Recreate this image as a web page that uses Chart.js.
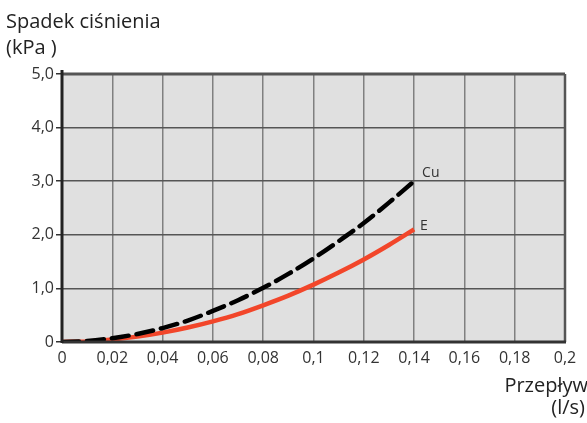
<!DOCTYPE html>
<html>
<head>
<meta charset="utf-8">
<script src="https://cdn.jsdelivr.net/npm/chart.js@4/dist/chart.umd.min.js"></script>
<style>
  html, body { margin: 0; padding: 0; background: #fff; }
  #wrap { position: relative; width: 587px; height: 423px; }
</style>
</head>
<body>
<div id="wrap"><canvas id="c" width="587" height="423"></canvas></div>
<script>
// Flow (l/s) and pressure drop (kPa)
const flow = [0, 0.01, 0.02, 0.03, 0.04, 0.05, 0.06, 0.07, 0.08, 0.09, 0.10, 0.11, 0.12, 0.13, 0.14];
const dropCu = [0, 0.02, 0.07, 0.15, 0.26, 0.40, 0.58, 0.78, 1.01, 1.27, 1.56, 1.88, 2.22, 2.60, 3.0];
const dropE  = [0, 0.01, 0.045, 0.10, 0.175, 0.27, 0.385, 0.52, 0.685, 0.865, 1.07, 1.295, 1.54, 1.81, 2.1];
const seriesNames = ['Cu', 'E'];
const xTickValues = [0, 0.02, 0.04, 0.06, 0.08, 0.1, 0.12, 0.14, 0.16, 0.18, 0.2];
const yTickValues = [0, 1, 2, 3, 4, 5];
const yTitle = ['Spadek ciśnienia', '(kPa )'];
const xTitle = ['Przepływ', '(l/s)'];

const FONT = '"Open Sans", "Noto Sans", sans-serif';
const pts = arr => flow.map((x, i) => ({ x: x, y: arr[i] }));

const fmtX = v => {
  if (Math.abs(v) < 1e-9) return '0';
  return String(parseFloat(v.toFixed(2))).replace('.', ',');
};
const fmtY = v => (Math.abs(v) < 1e-9 ? '0' : v.toFixed(1).replace('.', ','));

// label offsets next to the last point of each curve
const labelOffsets = [[8, -8], [6, -3]];

const decorPlugin = {
  id: 'decor',
  beforeDraw(chart) {
    const { ctx, chartArea: a } = chart;
    ctx.save();
    ctx.fillStyle = '#e0e0e0';
    ctx.fillRect(a.left, a.top, a.right - a.left, a.bottom - a.top);
    ctx.restore();
  },
  afterDraw(chart) {
    const { ctx, chartArea: a } = chart;
    ctx.save();
    // frame: dark top, right and bottom edges, black left axis
    ctx.strokeStyle = '#555';
    ctx.lineWidth = 3;
    ctx.beginPath(); ctx.moveTo(a.left, a.top); ctx.lineTo(a.right, a.top); ctx.stroke();
    ctx.lineWidth = 2.5;
    ctx.beginPath(); ctx.moveTo(a.right, a.top); ctx.lineTo(a.right, a.bottom); ctx.stroke();
    ctx.strokeStyle = '#333';
    ctx.lineWidth = 3;
    ctx.beginPath(); ctx.moveTo(a.left, a.bottom); ctx.lineTo(a.right + 1, a.bottom); ctx.stroke();
    ctx.strokeStyle = '#222';
    ctx.lineWidth = 3;
    ctx.beginPath(); ctx.moveTo(a.left, a.top - 4); ctx.lineTo(a.left, a.bottom + 1); ctx.stroke();

    // axis titles
    ctx.fillStyle = '#222';
    ctx.font = '20px ' + FONT;
    ctx.textBaseline = 'alphabetic';
    ctx.textAlign = 'left';
    ctx.fillText(yTitle[0], 6, 28);
    ctx.fillText(yTitle[1], 6, 54);
    ctx.textAlign = 'right';
    ctx.fillText(xTitle[0], 588, 392);
    ctx.fillText(xTitle[1], 585, 414);

    // series end labels
    ctx.font = '14px ' + FONT;
    ctx.fillStyle = '#333';
    ctx.textAlign = 'left';
    ctx.textBaseline = 'middle';
    chart.data.datasets.forEach((ds, di) => {
      const meta = chart.getDatasetMeta(di);
      const last = meta.data[meta.data.length - 1];
      ctx.fillText(seriesNames[di], last.x + labelOffsets[di][0], last.y + labelOffsets[di][1]);
    });
    ctx.restore();
  }
};

new Chart(document.getElementById('c'), {
  type: 'line',
  data: {
    datasets: [
      {
        label: seriesNames[0],
        data: pts(dropCu),
        borderColor: '#000',
        borderWidth: 4.5,
        borderDash: [17, 8],
        borderCapStyle: 'round',
        pointRadius: 0,
        tension: 0.4,
        cubicInterpolationMode: 'monotone'
      },
      {
        label: seriesNames[1],
        data: pts(dropE),
        borderColor: '#f2462a',
        borderWidth: 4.5,
        pointRadius: 0,
        tension: 0.4,
        cubicInterpolationMode: 'monotone'
      }
    ]
  },
  options: {
    responsive: false,
    animation: false,
    layout: { padding: { top: 74, right: 22, left: 0, bottom: 0 } },
    plugins: { legend: { display: false }, tooltip: { enabled: false } },
    scales: {
      x: {
        type: 'linear',
        min: 0, max: 0.2,
        afterBuildTicks: s => { s.ticks = xTickValues.map(v => ({ value: v })); },
        afterFit: s => { s.height = 81; },
        border: { display: false },
        grid: {
          color: '#808080',
          lineWidth: 1.5,
          drawTicks: false
        },
        ticks: {
          callback: v => fmtX(v),
          color: '#333',
          font: { family: FONT, size: 16 },
          padding: 7,
          maxRotation: 0,
          autoSkip: false
        }
      },
      y: {
        type: 'linear',
        min: 0, max: 5,
        afterBuildTicks: s => { s.ticks = yTickValues.map(v => ({ value: v })); },
        afterFit: s => { s.width = 62; },
        border: { display: false },
        grid: {
          color: '#555',
          lineWidth: 1.5,
          tickLength: 6,
          tickColor: '#333'
        },
        ticks: {
          callback: v => fmtY(v),
          color: '#333',
          font: { family: FONT, size: 16 },
          padding: 2
        }
      }
    }
  },
  plugins: [decorPlugin]
});
</script>
</body>
</html>
